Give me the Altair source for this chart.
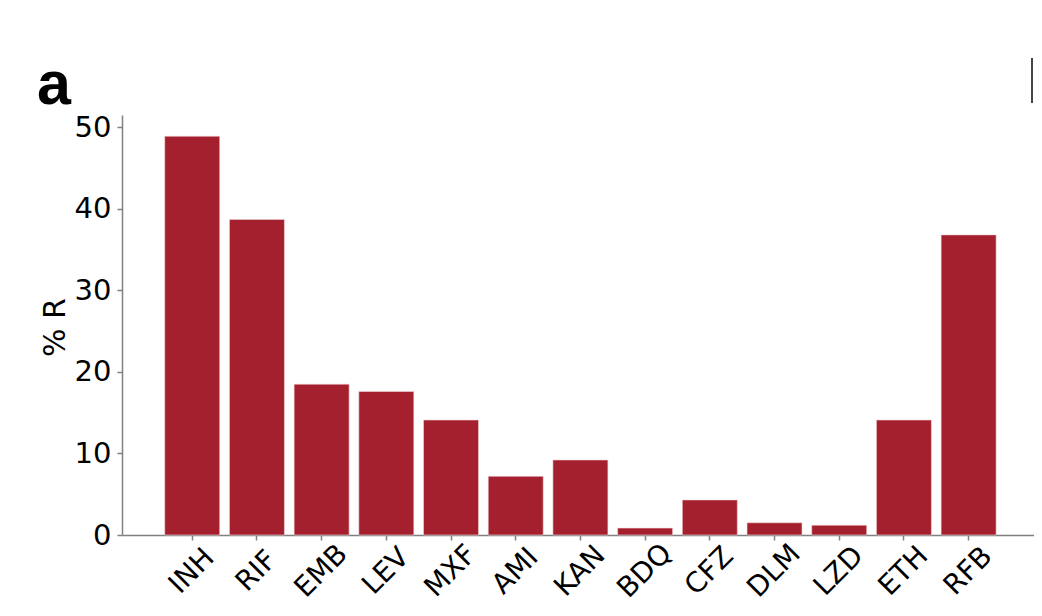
import altair as alt
import pandas as pd

drugs = ["INH", "RIF", "EMB", "LEV", "MXF", "AMI", "KAN", "BDQ", "CFZ", "DLM", "LZD", "ETH", "RFB"]
pct_r = [48.9, 38.7, 18.5, 17.6, 14.1, 7.2, 9.2, 0.85, 4.3, 1.5, 1.2, 14.1, 36.8]
y_ticks = [0, 10, 20, 30, 40, 50]
panel_label = ["a"]

df = pd.DataFrame({"drug": drugs, "pct": pct_r})

bars = alt.Chart(df).mark_bar(color="#A4202E", stroke="#F3D6D8", strokeWidth=0.6).encode(
    x=alt.X(
        "drug:N",
        sort=drugs,
        scale=alt.Scale(paddingInner=0.15, paddingOuter=0.623, align=0.53),
        axis=alt.Axis(
            title=None,
            labelAngle=-45,
            labelAlign="center",
            labelBaseline="middle",
            labelPadding=31,
            labelFontSize=28,
            labelFont="DejaVu Sans",
            labelColor="black",
            tickColor="#808080",
            domainColor="#808080",
            tickSize=5,
            tickWidth=1.5,
            domainWidth=1.5,
        ),
    ),
    y=alt.Y(
        "pct:Q",
        scale=alt.Scale(domain=[0, 51.5], nice=False, zero=True),
        axis=alt.Axis(
            values=y_ticks,
            grid=False,
            title="% R",
            titleX=-52,
            titleY=212,
            titleFontSize=30,
            titleFont="DejaVu Sans",
            titleFontWeight="normal",
            titleColor="black",
            labelFontSize=29,
            labelFont="DejaVu Sans",
            labelColor="black",
            labelPadding=6,
            tickColor="#808080",
            domainColor="#808080",
            tickSize=5,
            tickWidth=1.5,
            domainWidth=1.5,
        ),
    ),
)

label = alt.Chart(pd.DataFrame({"t": panel_label})).mark_text(
    font="Liberation Sans", fontWeight="bold", fontSize=61, align="left", baseline="alphabetic", color="black"
).encode(text="t:N", x=alt.value(-85), y=alt.value(-11))

edge = alt.Chart(pd.DataFrame({"k": [0]})).mark_rule(color="#444444", strokeWidth=2).encode(
    x=alt.value(910), y=alt.value(-57), y2=alt.value(-12)
)

chart = alt.layer(bars, label, edge).properties(
    width=912,
    height=420,
    autosize=alt.AutoSizeParams(type="none"),
    padding={"left": 114, "top": 107, "right": 0, "bottom": 70},
    background="white",
).configure_view(stroke=None)

chart.save("out.html", embed_options={"renderer": "svg", "actions": False})
